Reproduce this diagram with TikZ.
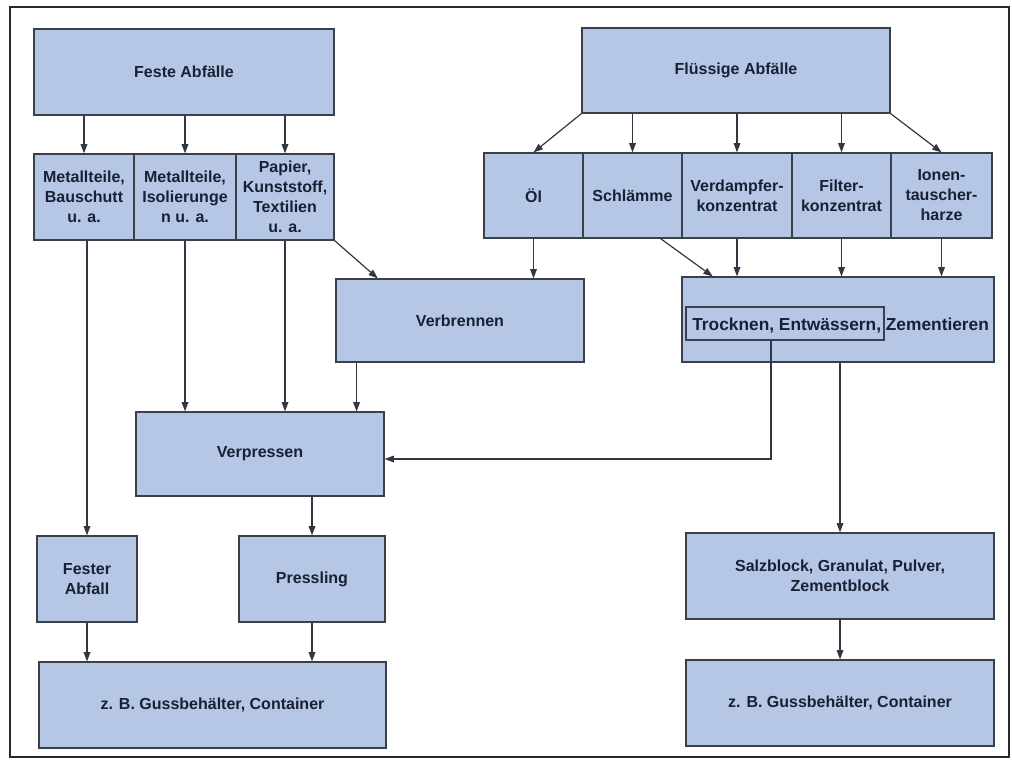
\documentclass[tikz,border=0pt]{standalone}
\usepackage{fontspec}
\setmainfont{Liberation Sans}
\usepackage{tikz}
\usetikzlibrary{arrows.meta,calc}

\definecolor{boxfill}{RGB}{181,199,229}
\definecolor{boxline}{RGB}{58,63,74}
\definecolor{txtcol}{RGB}{24,32,52}
\definecolor{arrcol}{RGB}{50,55,65}
\definecolor{framecol}{RGB}{40,40,40}

\tikzset{
  sz/.style 2 args={minimum width=#1*0.75pt, minimum height=#2*0.75pt},
  blk/.style={draw=boxline, fill=boxfill, line width=0.9pt, inner sep=1pt, align=center,
    text=txtcol, font=\bfseries\fontsize{12}{15}\selectfont},
  txt/.style={inner sep=0pt, text=txtcol, font=\bfseries\fontsize{13}{15}\selectfont},
  arr/.style={draw=arrcol, line width=0.9pt, -{Triangle[length=7pt,width=5pt]}},
}

\begin{document}
\begin{tikzpicture}[x=0.75pt,y=0.75pt,yscale=-1,xscale=1]
\useasboundingbox (0,0) rectangle (1012,760);
% Frame
\draw [line width=1.2pt, color=framecol] (10,7) rectangle (1009,757);
% Feste Abfaelle
\node [blk, sz={300}{86}] (feste) at (184,72) {Feste Abfälle};
\node [blk, sz={100}{86}] (mbau) at (84,197) {Metallteile,\\Bauschutt\\u. a.};
\node [blk, sz={102}{86}] (miso) at (185,197) {Metallteile,\\Isolierunge\\n u. a.};
\node [blk, sz={98}{86}] (papier) at (285,197) {Papier,\\Kunststoff,\\Textilien\\u. a.};
% Fluessige Abfaelle
\node [blk, sz={308}{85}] (fluessig) at (736,70.5) {Flüssige Abfälle};
\node [blk, sz={99}{85}] (oel) at (533.5,195.5) {Öl};
\node [blk, sz={99}{85}] (schl) at (632.5,195.5) {Schlämme};
\node [blk, sz={110}{85}] (verd) at (737,195.5) {Verdampfer-\\konzentrat};
\node [blk, sz={99}{85}] (filter) at (841.5,195.5) {Filter-\\konzentrat};
\node [blk, sz={101}{85}] (ionen) at (941.5,195.5) {Ionen-\\tauscher-\\harze};
% Behandlung
\node [blk, sz={248}{83}] (verbr) at (460,320.5) {Verbrennen};
\node [blk, sz={312}{85}] (trock) at (838,319.5) {};
\node [draw=boxline, line width=0.9pt, inner sep=0pt, sz={198}{33}] (trockin) at (785,323.5) {};
% Text Node
\node [txt, anchor=base west] (trocktxt) at (692,330) {Trocknen, Entwässern, Zementieren};
\node [blk, sz={248}{84}] (verpr) at (260,454) {Verpressen};
% Produkte
\node [blk, sz={100}{86}] (fester) at (87,579) {Fester\\Abfall};
\node [blk, sz={146}{86}] (pressl) at (312,579) {Pressling};
\node [blk, sz={347}{86}] (contl) at (212.5,705) {z. B. Gussbehälter, Container};
\node [blk, sz={308}{86}] (salz) at (840,576) {Salzblock, Granulat, Pulver,\\Zementblock};
\node [blk, sz={308}{86}] (contr) at (840,703) {z. B. Gussbehälter, Container};
% Arrows
\draw [arr] (feste.south -| mbau) -- (mbau);
\draw [arr] (feste.south -| miso) -- (miso);
\draw [arr] (feste.south -| papier) -- (papier);
\draw [arr] (fluessig.south west) -- (oel.north);
\draw [arr] (fluessig.south -| schl) -- (schl);
\draw [arr] (fluessig.south -| verd) -- (verd);
\draw [arr] (fluessig.south -| filter) -- (filter);
\draw [arr] (fluessig.south east) -- (ionen.north);
\draw [arr] (papier.south east) -- ($(verbr.north west)!0.17!(verbr.north east)$);
\draw [arr] (oel) -- (oel |- verbr.north);
\draw [arr] ($(schl.south)!0.56!(schl.south east)$) -- ($(trock.north west)!0.1!(trock.north east)$);
\draw [arr] (verd) -- (verd |- trock.north);
\draw [arr] (filter) -- (filter |- trock.north);
\draw [arr] (ionen) -- (ionen |- trock.north);
\draw [arr] (miso) -- (miso |- verpr.north);
\draw [arr] (papier) -- (papier |- verpr.north);
\coordinate (vbfuss) at ($(verbr.south west)!0.085!(verbr.south east)$);
\draw [arr] (vbfuss) -- (vbfuss |- verpr.north);
\draw [arr] ($(trockin.south west)!0.43!(trockin.south east)$) |- ($(verpr.east)+(0,5)$);
\draw [arr] (mbau.south -| fester) -- (fester);
\draw [arr] (trock.south -| salz) -- (salz);
\draw [arr] (verpr.south -| pressl) -- (pressl);
\draw [arr] (fester) -- (fester |- contl.north);
\draw [arr] (pressl) -- (pressl |- contl.north);
\draw [arr] (salz) -- (contr);
\end{tikzpicture}
\end{document}
